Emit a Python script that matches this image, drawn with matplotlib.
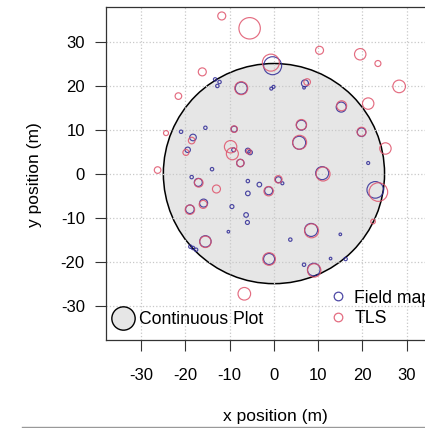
import matplotlib
matplotlib.use("Agg")
import matplotlib.pyplot as plt
from matplotlib.patches import Circle
from matplotlib.lines import Line2D
import numpy as np

plt.rcParams['font.family'] = ['Liberation Sans', 'DejaVu Sans']
plt.rcParams['axes.unicode_minus'] = False

# Field map stems: x, y (m) and dbh (cm)
field_x = [-0.3, -7.4, -13.3, -12.3, -12.8, -0.6, -0.1, 7.0, 6.8, 15.2,
           6.2, 5.7, 19.8, 21.3, -9.0, -9.1, -5.9, -5.4, -7.6, -21.0,
           -15.5, -18.3, -19.5, -14.0, 10.9, -18.6, -17.1, -5.9, -3.3, 1.0,
           1.9, -5.9, -1.2, -19.0, -15.9, -9.5, -6.3, -6.0, -10.3, -15.5,
           -18.9, -18.3, -17.6, -1.1, 3.7, 8.4, 15.0, 6.8, 9.0, 12.8,
           16.2, 22.9]
field_y = [24.5, 19.4, 21.4, 20.8, 19.9, 19.3, 19.7, 20.5, 19.5, 15.1,
           11.0, 7.0, 9.4, 2.4, 10.1, 5.4, 5.2, 4.8, 2.4, 9.5,
           10.4, 8.2, 5.4, 1.0, 0.1, -0.8, -2.0, -1.7, -2.5, -1.4,
           -2.2, -4.5, -3.9, -8.1, -6.7, -7.5, -9.4, -11.1, -13.2, -15.4,
           -16.6, -16.9, -17.3, -19.4, -15.0, -12.8, -13.8, -20.7, -21.8, -19.3,
           -19.4, -3.7]
field_dbh = [90, 60, 17, 17, 17, 15, 15, 35, 13, 50,
             50, 65, 43, 15, 30, 20, 25, 23, 37, 17,
             17, 33, 27, 17, 65, 17, 40, 17, 23, 30,
             15, 23, 40, 43, 40, 20, 23, 20, 13, 57,
             17, 17, 17, 55, 17, 65, 13, 17, 63, 13,
             17, 83]

# TLS stems
tls_x = [-11.8, -5.5, 10.3, 19.5, 23.5, 28.3, -16.2, -21.6, 21.3, -24.4,
         25.2, -26.3, -0.7, -7.4, 7.5, 15.3, 6.2, 5.8, 19.8, -9.0,
         -9.8, -9.4, -5.7, -7.6, -18.6, -19.9, 11.1, -17.0, -13.0, 1.0,
         -1.2, -19.0, -16.0, -15.5, -1.1, -6.7, 8.5, 9.1, 23.6, 22.4]
tls_y = [35.8, 33.0, 28.0, 27.1, 25.0, 19.8, 23.1, 17.6, 15.9, 9.2,
         5.7, 0.8, 25.2, 19.4, 20.8, 15.4, 11.1, 7.1, 9.5, 10.1,
         6.1, 4.5, 5.0, 2.4, 7.5, 4.8, -0.1, -2.1, -3.5, -1.3,
         -4.0, -8.2, -7.0, -15.5, -19.4, -27.3, -13.0, -22.0, -4.2, -10.9]
tls_dbh = [40, 107, 40, 57, 30, 63, 40, 33, 57, 25,
           57, 33, 85, 65, 33, 50, 52, 70, 45, 33,
           62, 60, 25, 37, 33, 30, 70, 43, 40, 37,
           47, 47, 40, 57, 63, 63, 70, 67, 93, 23]

plot_radius = 25
ticks = [-30, -20, -10, 0, 10, 20, 30]

blue = '#2f2a96'
red = '#DF536B'

def msize(d):
    return (np.asarray(d) * 0.144) ** 2

fig = plt.figure(figsize=(4.25, 4.28), dpi=100)
ax = fig.add_axes([0.2501, 0.2056, 0.789, 0.7787])
ax.set_xlim(-37.9, 37.9)
ax.set_ylim(-37.8, 37.9)

# plot boundary
ax.add_patch(Circle((0, 0), plot_radius, facecolor='#E6E6E6',
                    edgecolor='black', lw=1.1, zorder=1))

# dotted grid over the plot disc
for t in ticks:
    ax.axvline(t, color='#C8C8C8', ls=':', lw=0.9, zorder=2)
    ax.axhline(t, color='#C8C8C8', ls=':', lw=0.9, zorder=2)

ax.scatter(field_x, field_y, s=msize(field_dbh), facecolors='none',
           edgecolors=blue, linewidths=0.85, alpha=0.85, zorder=3)
ax.scatter(tls_x, tls_y, s=msize(tls_dbh), facecolors='none',
           edgecolors=red, linewidths=0.85, alpha=0.85, zorder=4)

ax.set_xticks(ticks)
ax.set_yticks(ticks)
ax.tick_params(axis='both', length=8, width=0.8, color='#333333',
               labelsize=12)
ax.tick_params(axis='x', pad=12)
ax.tick_params(axis='y', pad=7.5)
for s in ax.spines.values():
    s.set_color('#333333')
    s.set_linewidth(0.9)

ax.set_xlabel('x position (m)', fontsize=12.5)
ax.set_ylabel('y position (m)', fontsize=12.5)
ax.xaxis.set_label_coords(0.5046, -0.207)
ax.yaxis.set_label_coords(-0.192, 0.495)

h_plot = Line2D([], [], marker='o', ls='none', markersize=16.8,
                markerfacecolor='#E6E6E6', markeredgecolor='black',
                markeredgewidth=1.0)
leg1 = ax.legend([h_plot], ['Continuous Plot'], loc='center left',
                 bbox_to_anchor=(0.0122, 0.062), frameon=False,
                 fontsize=12.7, borderpad=0, borderaxespad=0,
                 handlelength=1.4, handletextpad=0.24)
ax.add_artist(leg1)

h_field = Line2D([], [], marker='o', ls='none', markersize=6.2,
                 markerfacecolor='none', markeredgecolor=blue,
                 markeredgewidth=0.9, alpha=0.85)
h_tls = Line2D([], [], marker='o', ls='none', markersize=6.2,
               markerfacecolor='none', markeredgecolor=red,
               markeredgewidth=0.9, alpha=0.85)
ax.legend([h_field, h_tls], ['Field map', 'TLS'], loc='center left',
          bbox_to_anchor=(0.664, 0.095), frameon=False, fontsize=12.7,
          borderpad=0, borderaxespad=0, handlelength=1.0,
          handletextpad=0.44, labelspacing=0.2)

fig.add_artist(Line2D([22 / 425, 1], [0.0012, 0.0012], color='#999999', lw=1))

fig.savefig('out.png', dpi=100)
